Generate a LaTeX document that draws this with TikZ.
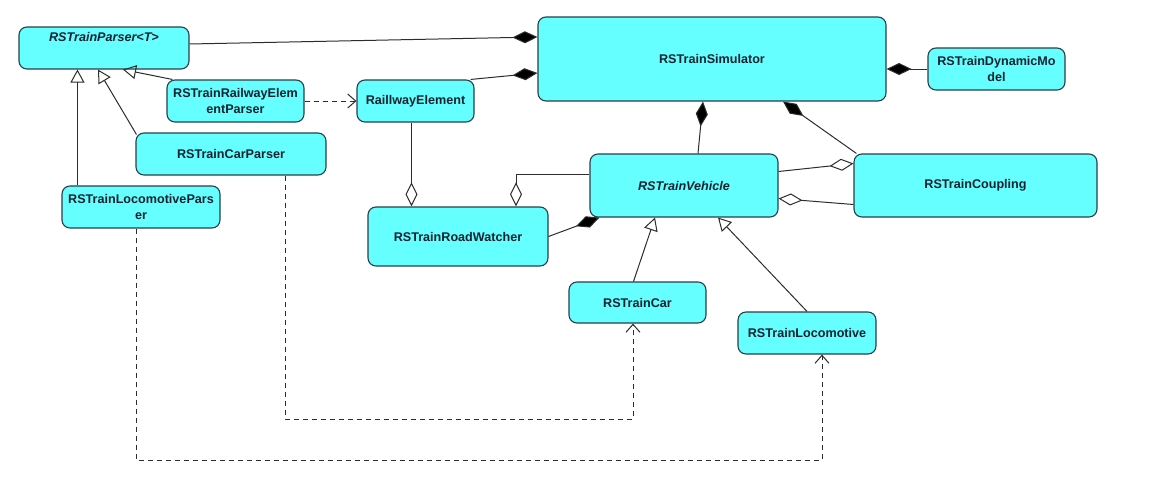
\documentclass[tikz,border=0pt]{standalone}
\usepackage{fontspec}
\setmainfont{Liberation Sans}
\usetikzlibrary{arrows.meta}
\definecolor{clsfill}{RGB}{102,255,255}
\definecolor{clsline}{RGB}{40,64,72}
\definecolor{clstext}{RGB}{22,34,48}
\definecolor{wire}{RGB}{45,45,45}
\begin{document}
\begin{tikzpicture}[x=1pt,y=-1pt,
cls/.style ={rectangle, draw=clsline, fill=clsfill, line width=1.1pt,
  rounded corners=8pt, inner sep=0pt, align=center, text=clstext,
  font=\fontsize{12.6}{16.5}\selectfont\bfseries
},
title/.style ={inner sep=0pt, text=clstext,
  font=\fontsize{12.6}{16.5}\selectfont\bfseries\itshape
},
link/.style ={draw=wire, line width=1pt},
comp/.style ={link, -{Diamond[length=25pt,width=12pt,fill=black]}},
aggr/.style ={link, -{Diamond[open,length=24pt,width=12pt]}},
inher/.style ={link, -{Triangle[open,length=13pt,width=14pt]}},
dep/.style ={link, dash pattern=on 5pt off 4pt,
  -{Straight Barb[length=8pt,width=14pt]}}
]
\useasboundingbox[fill=white] (0,0) rectangle (1176,485);

% parsers
\node (parser) at (104,48) [cls, minimum width=170pt, minimum height=42pt] {};
\node (parsertitle) at (104,37) [title] {RSTrainParser<T>};
\node (rwep) at (235.5,101) [cls, minimum width=137pt, minimum height=42pt] {RSTrainRailwayElem\\entParser};
\node (carp) at (231,154) [cls, minimum width=190pt, minimum height=42pt] {RSTrainCarParser};
\node (locp) at (141,207) [cls, minimum width=158pt, minimum height=42pt] {RSTrainLocomotivePars\\er};

% simulator side
\node (rwe) at (415.5,101) [cls, minimum width=117pt, minimum height=42pt] {RaillwayElement};
\node (sim) at (712,59) [cls, minimum width=348pt, minimum height=84pt] {RSTrainSimulator};
\node (dyn) at (996.5,69) [cls, minimum width=137pt, minimum height=42pt] {RSTrainDynamicMo\\del};
\node (veh) at (684,185.5) [cls, minimum width=188pt, minimum height=63pt] {\itshape RSTrainVehicle};
\node (coup) at (975.5,185.5) [cls, minimum width=243pt, minimum height=63pt] {RSTrainCoupling};
\node (watcher) at (458,236.5) [cls, minimum width=180pt, minimum height=59pt] {RSTrainRoadWatcher};
\node (car) at (637.5,302.5) [cls, minimum width=137pt, minimum height=41pt] {RSTrainCar};
\node (loco) at (807,333) [cls, minimum width=138pt, minimum height=42pt] {RSTrainLocomotive};

\coordinate (cardep) at (633,419);
\coordinate (locodep) at (822,460);

% composition
\draw[comp] ([yshift=4pt]parser.east) -- ([yshift=22pt]sim.west);
\draw[comp] ([xshift=-4pt]rwe.north east) -- ([yshift=-14pt]sim.west);
\draw[comp] (dyn.west) -- (dyn.west -| sim.east);
\draw[comp] ([xshift=14pt]veh.north) -- ([xshift=-9pt]sim.south);
\draw[comp] ([xshift=3pt]coup.north west) -- ([xshift=71pt]sim.south);
\draw[comp] (watcher.east) -- ([xshift=10pt]veh.south west);

% aggregation
\draw[aggr] ([yshift=14pt]veh.east) -- ([yshift=22pt]coup.west);
\draw[aggr] ([yshift=-19pt]coup.west) -- ([yshift=-13pt]veh.east);
\draw[aggr] ([xshift=-4pt]rwe.south) -- ([xshift=-4pt]rwe.south |- watcher.north);
\draw[aggr] ([yshift=11pt]veh.west) -| ([xshift=58pt]watcher.north);

% inheritance
\draw[inher] ([xshift=-4pt]car.north) -- ([xshift=-29pt]veh.south);
\draw[inher] (loco.north) -- ([xshift=34pt]veh.south);
\draw[inher] ([xshift=6pt]rwep.north west) -- ([xshift=19pt]parser.south);
\draw[inher] ([xshift=1pt,yshift=-2pt]carp.north west) -- ([xshift=-6pt]parser.south);
\draw[inher] ([xshift=16pt]locp.north west) -- ([xshift=16pt]locp.north west |- parser.south);

% dependencies
\draw[dep] (rwep.east) -- (rwe.west);
\draw[dep] ([xshift=54pt]carp.south) |- (cardep) -- (cardep |- car.south);
\draw[dep] ([xshift=-5pt]locp.south) |- (locodep) -- (locodep |- loco.south);
\end{tikzpicture}
\end{document}
